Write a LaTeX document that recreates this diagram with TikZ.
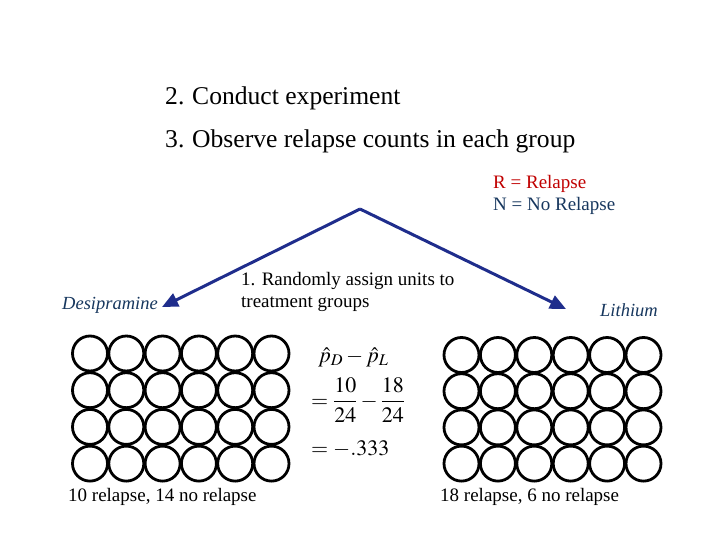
\documentclass[tikz,border=0pt]{standalone}
\usepackage{mathptmx}
\usepackage[no-math]{fontspec}
\setmainfont{Liberation Serif}
\usetikzlibrary{arrows.meta}
\definecolor{ArrowNavy}{HTML}{1F2D8C}
\definecolor{RelRed}{HTML}{C00000}
\definecolor{DrugNavy}{HTML}{17375E}

\begin{document}
\begin{tikzpicture}[x=1pt,y=-1pt,
  txt/.style={anchor=base west,inner sep=0pt,font=\fontsize{19}{22}\selectfont},
  steptxt/.style={anchor=base west,inner sep=0pt,font=\fontsize{25.6}{30}\selectfont},
  unitc/.style={circle,draw=black,line width=2.8pt,minimum size=35pt,inner sep=0pt},
  assignarr/.style={ArrowNavy,line width=3pt,-{Triangle[length=16pt,width=14pt]}}]
  \useasboundingbox (0,0) rectangle (720,540);
  % steps
  \node[steptxt] (conduct) at (165,105) {\makebox[27pt][l]{2.}Conduct experiment};
  \node[steptxt] (observe) at (165,148) {\makebox[27pt][l]{3.}Observe relapse counts in each group};
  % legend
  \node[txt,RelRed] (legR) at (493,189) {R = Relapse};
  \node[txt,DrugNavy] (legN) at (493,211) {N = No Relapse};
  % assignment
  \coordinate (apex) at (360,209);
  \coordinate (dtip) at (162,307);
  \coordinate (ltip) at (566,309);
  \draw[assignarr] (apex) -- (dtip);
  \draw[assignarr] (apex) -- (ltip);
  \node[txt] (assign1) at (241,285) {1. Randomly assign units to};
  \node[txt] (assign2) at (241,307) {treatment groups};
  \node[txt,DrugNavy,font=\fontsize{18.5}{22}\itshape] (desi) at (62,309) {Desipramine};
  \node[txt,DrugNavy,font=\fontsize{18.5}{22}\itshape] (lith) at (600,316) {Lithium};
  % units
  \foreach \i in {0,...,5}
    \foreach \j in {0,...,3} {
      \node[unitc] (d\i\j) at (90+36.3*\i,353.5+36.7*\j) {};
      \node[unitc] (l\i\j) at (461.5+36.4*\i,355+36.2*\j) {};
    }
  \node[txt] (dcount) at (68,501) {10 relapse, 14 no relapse};
  \node[txt] (lcount) at (440,501) {18 relapse, 6 no relapse};
  % difference in proportions
  \node[txt,font=\fontsize{22}{26}\selectfont] (pdiff) at (318,362) {$\hat{p}_D-\hat{p}_L$};
  \node[anchor=west,inner sep=0pt,font=\fontsize{22}{26}\selectfont] (pfrac) at (311,400)
    {$\displaystyle=\frac{10}{24}-\frac{18}{24}$};
  \node[txt,font=\fontsize{22}{26}\selectfont] (pval) at (311,455) {$=-.333$};
\end{tikzpicture}
\end{document}
